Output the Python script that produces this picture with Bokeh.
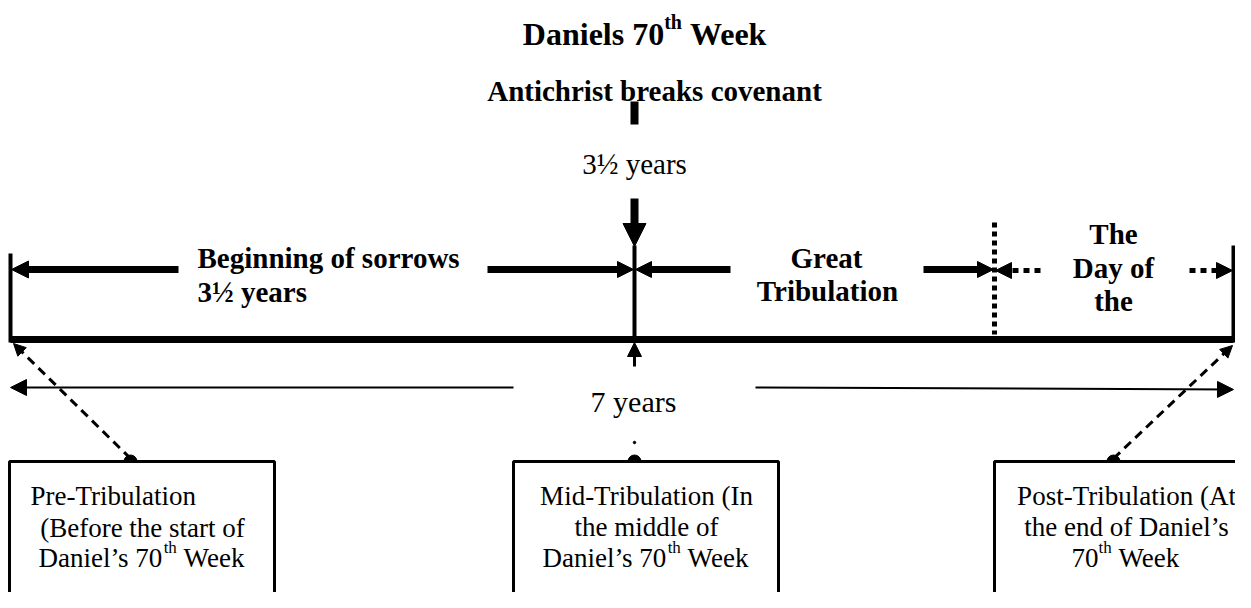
from bokeh.plotting import figure
from bokeh.models import Range1d, Arrow, NormalHead
from bokeh.core.properties import value
from bokeh.embed import file_html
from bokeh.resources import INLINE

# ---------------- content ----------------
TITLE_RUNS = ["Daniels 70", "th", "Week"]
EVENT_LABEL = "Antichrist breaks covenant"
HALF_LABEL = "3½ years"
TOTAL_LABEL = "7 years"
PHASE_SORROWS = ["Beginning of sorrows", "3½ years"]
PHASE_GREAT = ["Great", "Tribulation"]
PHASE_DAY = ["The", "Day of", "the"]
BOX_PRE = [["Pre-Tribulation"], ["(Before the start of"], ["Daniel’s 70", "th", "Week"]]
BOX_MID = [["Mid-Tribulation (In"], ["the middle of"], ["Daniel’s 70", "th", "Week"]]
BOX_POST = [["Post-Tribulation (At"], ["the end of Daniel’s"], ["70", "th", "Week"]]
MARK_YEARS = [0.0, 3.5, 7.0]          # start, middle, end of the week

# ---------------- layout (pixel positions) ----------------
X0, XM, XD, XE = 10, 634, 994, 1233    # start, middle, Day-of-the-Lord, end
Y_LINE = 339
FONT = "Liberation Serif"

# Times metrics (1/1000 em) for superscript layout
REG = {"D": 722, "a": 444, "n": 500, "i": 278, "e": 444, "l": 278, "’": 333, "s": 389,
       " ": 250, "7": 500, "0": 500, "W": 944, "k": 500, "t": 278, "h": 500}
BOLD = {"D": 722, "a": 500, "n": 556, "i": 278, "e": 444, "l": 278, "s": 389,
        " ": 250, "7": 500, "0": 500, "W": 1000, "k": 556, "t": 333, "h": 556}
SUP = 0.62


def width(s, table, fs):
    return sum(table[c] for c in s) / 1000.0 * fs


p = figure(width=1235, height=592, output_backend="svg", toolbar_location=None,
           x_range=Range1d(0, 1235), y_range=Range1d(592, 0), min_border=0)
p.axis.visible = False
p.grid.visible = False
p.outline_line_color = None
p.background_fill_color = "white"
p.border_fill_color = "white"


def txt(x, y, s, fs, bold=False, align="center"):
    p.text(x=[x], y=[y], text=[s], text_font=value(FONT), text_font_size=f"{fs}px",
           text_font_style="bold" if bold else "normal", text_align=align,
           text_baseline="alphabetic", text_color="black")


def sup_line(cx, y, runs, fs, bold=False):
    table = BOLD if bold else REG
    sfs = int(round(fs * SUP))
    w0 = width(runs[0], table, fs)
    w1 = width(runs[1], table, sfs)
    ws = width(" ", table, fs)
    w2 = width(runs[2], table, fs)
    x = cx - (w0 + w1 + ws + w2) / 2
    txt(x, y, runs[0], fs, bold, "left")
    txt(x + w0, y - 0.36 * fs, runs[1], sfs, bold, "left")
    txt(x + w0 + w1 + ws, y, runs[2], fs, bold, "left")


def seg(x0, y0, x1, y1, w, dash="solid"):
    p.line([x0, x1], [y0, y1], line_width=w, line_color="black", line_dash=dash)


def arrow(x0, y0, x1, y1, w, head, dash="solid"):
    p.add_layout(Arrow(end=NormalHead(size=head, fill_color="black", line_color="black", line_width=1),
                       x_start=x0, y_start=y0, x_end=x1, y_end=y1,
                       line_width=w, line_color="black", line_dash=dash))


# titles
sup_line(645, 33, TITLE_RUNS, 32, bold=True)
txt(654, 90, EVENT_LABEL, 29, bold=True)
seg(XM, 101, XM, 124, 8)
txt(634, 163, HALF_LABEL, 29)
arrow(XM, 198, XM, 246, 8, 23)

# timeline
seg(X0, Y_LINE, XE, Y_LINE, 7)
seg(X0, 253, X0, Y_LINE + 3, 4)
seg(XE, 245, XE, Y_LINE + 3, 4)
seg(XM, 245, XM, Y_LINE, 4)
seg(XD, 222, XD, 334, 5, "5 4")

# phase arrows
arrow(178, 269, X0 + 1, 269, 7, 17)
arrow(487, 269, XM - 1, 269, 7, 16)
arrow(730, 269, XM + 1, 269, 7, 16)
arrow(923, 269, XD - 1, 269, 7, 16)
arrow(1040, 270, XD + 1, 270, 5, 16, "6 5")
arrow(1189, 270, XE - 1, 270, 5, 16, "6 5")

# phase labels
txt(197, 257, PHASE_SORROWS[0], 29, bold=True, align="left")
txt(197, 291, PHASE_SORROWS[1], 29, bold=True, align="left")
txt(826, 257, PHASE_GREAT[0], 29, bold=True)
txt(827, 290, PHASE_GREAT[1], 29, bold=True)
for s, yb in zip(PHASE_DAY, [233, 267, 300]):
    txt(1113, yb, s, 29, bold=True)

# 7 years
arrow(XM, 366, XM, 342, 3, 14)
arrow(513, 387, X0, 387, 2, 16)
arrow(755, 387, XE, 389, 2, 16)
txt(633, 401, TOTAL_LABEL, 30)

# dashed pointers
arrow(130, 458, 13, 343, 3, 12, "9 6")
arrow(1113, 458, 1232, 345, 3, 12, "9 6")
p.scatter(x=[130, XM, 1113], y=[461, 461, 461], size=13, color="black")
p.scatter(x=[XM], y=[442], size=2.5, color="black")

# boxes
p.quad(left=[9, 513, 994], right=[274, 778, 1262], top=[461, 461, 461], bottom=[620, 604, 604],
       fill_color="white", line_color="black", line_width=3)

FS = 27
txt(30, 495, BOX_PRE[0][0], FS, align="left")
txt(142, 527, BOX_PRE[1][0], FS)
sup_line(142, 557, BOX_PRE[2], FS)

txt(646, 495, BOX_MID[0][0], FS)
txt(646, 526, BOX_MID[1][0], FS)
sup_line(646, 557, BOX_MID[2], FS)

txt(1126, 495, BOX_POST[0][0], FS)
txt(1126, 526, BOX_POST[1][0], FS)
sup_line(1126, 557, BOX_POST[2], FS)

open("out.html", "w").write(file_html(p, INLINE))
